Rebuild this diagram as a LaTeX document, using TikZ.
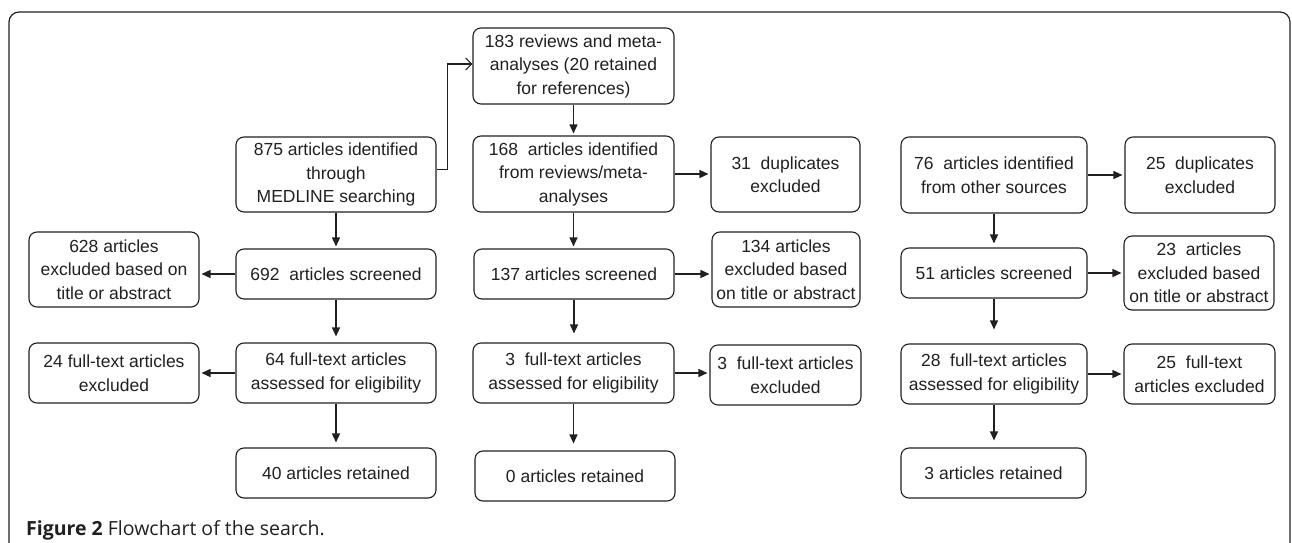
\documentclass[tikz,border=0pt]{standalone}
\usepackage{fontspec}
\setmainfont{Liberation Sans}
\newfontfamily\capfont{Open Sans}
\usetikzlibrary{arrows.meta,calc}
\definecolor{ink}{HTML}{231F20}
\begin{document}
\begin{tikzpicture}[x=1pt,y=-1pt,
  box/.style={draw=ink, line width=1.1pt, rounded corners=8pt, align=center, inner sep=0pt, text=ink, font=\fontsize{17.5}{23.5}\selectfont},
  wh/.style 2 args={minimum width=#1pt, minimum height=#2pt},
  arr/.style={draw=ink, line width=1.3pt, -{Triangle[length=9pt,width=8pt]}, shorten >=2pt},
  openarr/.style={draw=ink, line width=1.1pt, -{Straight Barb[length=6pt,width=12pt]}},
  frame/.style={draw=ink, line width=1.2pt, rounded corners=10pt}
]
\useasboundingbox (0,0) rectangle (1292,543);
\draw[frame] (9,548) -- (9,12) -- (1290,12) -- (1290,548);

% row 1
\node[box, wh={201}{76}] (rev) at (573.5,66) {183 reviews and meta-\\analyses (20 retained\\for references)};
\node[box, wh={200}{75}] (med) at (336,174.5) {875 articles identified\\through\\MEDLINE searching};
\node[box, wh={201}{76}] (id168) at (573.5,174) {168\ \ articles identified\\from reviews/meta-\\analyses};
\node[box, wh={149}{75}] (dup31) at (785.5,174.5) {31\ \ duplicates\\excluded};
\node[box, wh={186}{76}] (oth76) at (994,175) {76\ \ articles identified\\from other sources};
\node[box, wh={150}{76}] (dup25) at (1200,175) {25\ \ duplicates\\excluded};

% row 2
\node[box, wh={170}{75}] (ex628) at (114,269.5) {628 articles\\excluded based on\\title or abstract};
\node[box, wh={200}{50}] (scr692) at (336,274) {692\ \ articles screened};
\node[box, wh={200}{50}] (scr137) at (574,274) {137 articles screened};
\node[box, wh={148}{75}] (ex134) at (786,269.5) {134 articles\\excluded based\\on title or abstract};
\node[box, wh={186}{50}] (scr51) at (994,273) {51 articles screened};
\node[box, wh={150}{74}] (ex23) at (1199,273) {23\ \ articles\\excluded based\\on title or abstract};

% row 3
\node[box, wh={170}{60}] (ex24) at (114,373) {24 full-text articles\\excluded};
\node[box, wh={200}{60}] (ft64) at (336,373) {64 full-text articles\\assessed for eligibility};
\node[box, wh={201}{60}] (ft3) at (573.5,373) {3\ \ full-text articles\\assessed for eligibility};
\node[box, wh={151}{60}] (ex3) at (785.5,375) {3\ \ full-text articles\\excluded};
\node[box, wh={186}{60}] (ft28) at (994,374) {28\ \ full-text articles\\assessed for eligibility};
\node[box, wh={151}{60}] (ex25) at (1199.5,374) {25\ \ full-text\\articles excluded};

% row 4
\node[box, wh={200}{50}] (ret40) at (336,473) {40 articles retained};
\node[box, wh={200}{50}] (ret0) at (575,476) {0 articles retained};
\node[box, wh={185}{50}] (ret3) at (993.5,473) {3 articles retained};

% connectors
\draw[openarr] ([yshift=5pt]med.east) -- ++(11,0) |- ([yshift=2pt]rev.west);
\draw[arr] (rev.south) -- (id168.north);
\draw[arr] (id168.east) -- (id168.east -| dup31.west);
\draw[arr] (oth76.east) -- (oth76.east -| dup25.west);
\draw[arr] (med.south) -- (med.south |- scr692.north);
\draw[arr] (id168.south) -- (id168.south |- scr137.north);
\draw[arr, shorten >=4pt] (oth76.south) -- (oth76.south |- scr51.north);
\draw[arr] (scr692.west) -- (scr692.west -| ex628.east);
\draw[arr] (scr137.east) -- (scr137.east -| ex134.west);
\draw[arr] (scr51.east) -- (scr51.east -| ex23.west);
\draw[arr, shorten >=6pt] (scr692.south) -- (scr692.south |- ft64.north);
\draw[arr, shorten >=9pt] (scr137.south) -- (scr137.south |- ft3.north);
\draw[arr, shorten >=14pt] (scr51.south) -- (scr51.south |- ft28.north);
\draw[arr] (ft64.west) -- (ft64.west -| ex24.east);
\draw[arr] (ft3.east) -- (ft3.east -| ex3.west);
\draw[arr] (ft28.east) -- (ft28.east -| ex25.west);
\draw[arr, shorten >=5pt] (ft64.south) -- (ft64.south |- ret40.north);
\draw[arr, shorten >=7pt] (ft3.south) -- (ft3.south |- ret0.north);
\draw[arr, shorten >=7pt] (ft28.south) -- (ft28.south |- ret3.north);

% caption
\node[anchor=base west, inner sep=0pt, text=ink, font=\capfont\fontsize{19.5}{24}\selectfont] (cap) at (26,535) {\textbf{Figure 2} Flowchart of the search.};
\end{tikzpicture}
\end{document}
